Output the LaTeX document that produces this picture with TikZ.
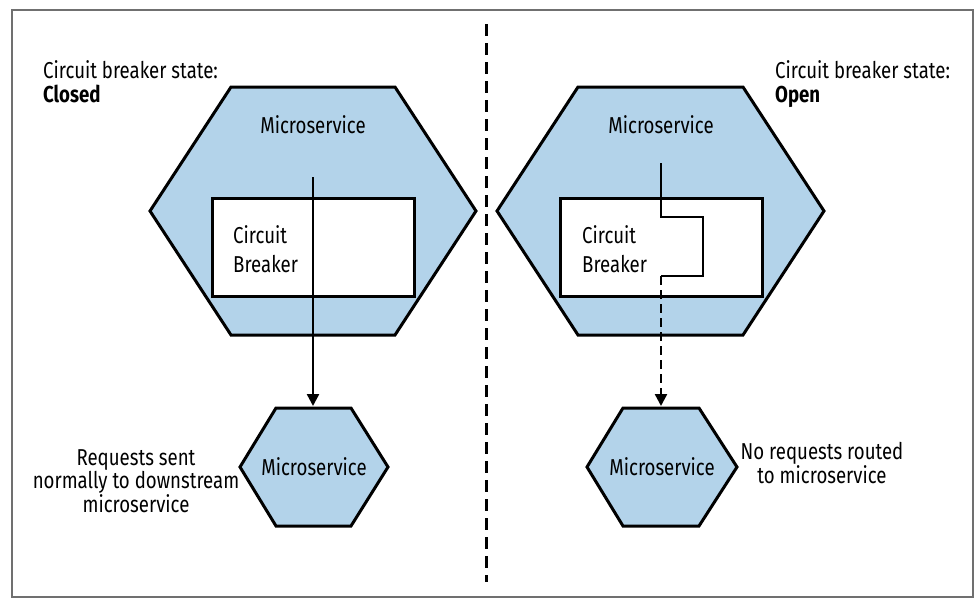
\documentclass[tikz,border=0pt]{standalone}
\usepackage{fontspec}
\setmainfont{Fira Sans}[FakeStretch=0.81]
\usetikzlibrary{arrows.meta}
\definecolor{hexblue}{HTML}{B3D3EA}
\definecolor{framegray}{HTML}{707070}
\begin{document}
\begin{tikzpicture}[x=1pt,y=-1pt,
  font=\fontsize{23}{22}\selectfont,
  hexfill/.style={fill=hexblue, draw=black, line width=3pt, line join=miter},
  cbbox/.style={fill=white, draw=black, line width=3pt, inner sep=0pt, minimum width=202pt, minimum height=98pt},
  flow/.style={line width=2.4pt},
  tipped/.style={-{Triangle[length=12pt,width=12pt]}},
  txt/.style={inner sep=0pt}]
\useasboundingbox (0,0) rectangle (978,608);
\draw[draw=framegray, line width=1.5pt] (12,10) rectangle (973,597);
\coordinate (divtop) at (486,24);
\coordinate (divbot) at (486,582);
\draw[line width=3pt, dash pattern=on 12pt off 7pt] (divtop) -- (divbot);

% ---------- left side (closed) ----------
\draw[hexfill] (231,87) -- (395,87) -- (476,211) -- (395,335) -- (231,335) -- (150,211) -- cycle;
\node[txt, anchor=base] (msL) at (313,133) {Microservice};
\node[cbbox] (cbL) at (313,247) {};
\node[txt, anchor=base west] (cbLt) at (233,243) {Circuit};
\node[txt, anchor=base west] (cbLt2) at (233,272) {Breaker};
\draw[hexfill] (276,408) -- (351,408) -- (388,467) -- (351,526) -- (276,526) -- (240,467) -- cycle;
\coordinate (smLtop) at (313,406);
\node[txt, anchor=base] (smL) at (314,475) {Microservice};
\coordinate (srcL) at (313,177);
\draw[flow, tipped] (srcL) -- (smLtop);
\node[txt, anchor=center, align=center, font=\fontsize{23}{21.5}\selectfont] (reqL) at (136,481) {Requests sent\\normally to downstream\\microservice};
\node[txt, anchor=base west] (stateL) at (43,78) {Circuit breaker state:};
\node[txt, anchor=base west, font=\fontsize{23}{22}\selectfont\bfseries] (stateLb) at (43,102) {Closed};

% ---------- right side (open) ----------
\draw[hexfill] (578,87) -- (743,87) -- (824,211) -- (743,335) -- (578,335) -- (497,211) -- cycle;
\node[txt, anchor=base] (msR) at (661,133) {Microservice};
\node[cbbox] (cbR) at (661,247) {};
\node[txt, anchor=base west] (cbRt) at (582,243) {Circuit};
\node[txt, anchor=base west] (cbRt2) at (582,272) {Breaker};
\draw[hexfill] (623,408) -- (699,408) -- (737,467) -- (699,526) -- (623,526) -- (587,467) -- cycle;
\coordinate (smRtop) at (661,406);
\node[txt, anchor=base] (smR) at (662,475) {Microservice};
\coordinate (srcR) at (661,163);
\coordinate (brk1) at (661,217);
\coordinate (brk2) at (703,217);
\coordinate (brk3) at (703,276);
\coordinate (brk4) at (661,276);
\draw[flow, line join=miter] (srcR) -- (brk1) -- (brk2) -- (brk3) -- (brk4);
\draw[flow, tipped, dash pattern=on 9pt off 5pt] (brk4) -- (smRtop);
\node[txt, anchor=center, align=center, font=\fontsize{23}{22.5}\selectfont] (reqR) at (822,463) {No requests routed\\to microservice};
\node[txt, anchor=base west] (stateR) at (775,78) {Circuit breaker state:};
\node[txt, anchor=base west, font=\fontsize{23}{22}\selectfont\bfseries] (stateRb) at (775,102) {Open};
\end{tikzpicture}
\end{document}
